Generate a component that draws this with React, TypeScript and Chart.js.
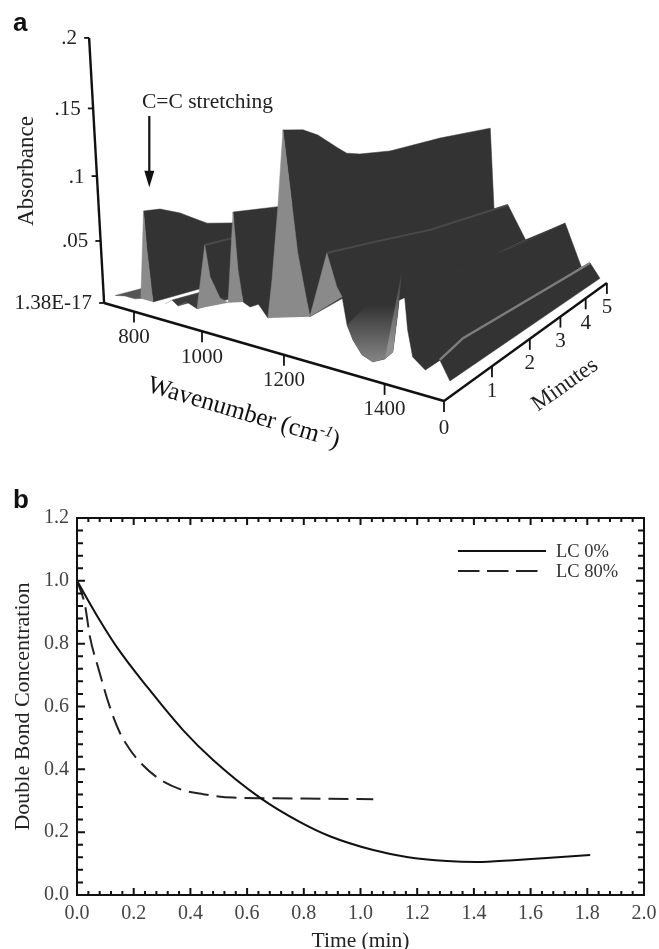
import React, { useEffect, useRef } from "react";
import { Chart, registerables } from "chart.js";

Chart.register(...registerables);

// ---------- Panel a: spectrum surface (wavenumber, minutes, absorbance) ----------
const wavenumberTicks = [800, 1000, 1200, 1400];
const minuteTicks = [0, 1, 2, 3, 4, 5];
const absorbanceTicks = [0, 0.05, 0.1, 0.15, 0.2];
const absorbanceTickLabels = ["1.38E-17", ".05", ".1", ".15", ".2"];
const frontMinute = 0.3;

const frontWavenumbers = [670, 704, 738, 758, 767, 778, 798, 836, 858, 876, 902, 932, 954, 969, 996, 1018, 1031, 1044, 1057, 1075, 1087, 1119, 1129, 1143, 1155, 1171, 1189, 1216, 1253, 1274, 1285, 1295, 1307, 1325, 1346, 1369, 1384, 1393, 1401, 1411, 1420, 1442, 1467, 1484];
const frontAbsorbance = [0, 0.0017, 0.0015, 0.003, 0.0696, 0.0407, 0.0028, 0.0037, 0.008, 0.0048, 0.0093, 0.0063, 0.0523, 0.0308, 0.0179, 0.0159, 0.0779, 0.0396, 0.0189, 0.0167, 0.0228, 0.0124, 0.0376, 0.085, 0.1343, 0.0985, 0.0578, 0.0196, 0.0607, 0.0414, 0.036, 0.02, 0.0121, 0.0047, 0.0023, 0.0058, 0.011, 0.0336, 0.0582, 0.0253, 0.011, 0.0056, 0.0131, 0.0032];

// crest rows: [wavenumber, minute, absorbance]
const ripple0Crest = [[670, 0.3, 0], [690, 5, 0.004], [758, 5, 0]];
const ridge1Crest = [[767, 0.3, 0.0696], [767, 0.565, 0.0692], [767, 0.904, 0.0637], [767, 1.136, 0.0579], [767, 1.394, 0.0517], [767, 1.886, 0.048], [767, 5, 0.047], [798, 5, 0.003]];
const rippleACrest = [[858, 0.3, 0.008], [858, 5, 0.006], [876, 5, 0.004]];
const rippleBCrest = [[902, 0.3, 0.0093], [902, 5, 0.007], [932, 5, 0.005]];
const ridge2Crest = [[954, 0.3, 0.0523], [954, 0.75, 0.053], [954, 5, 0.05], [996, 5, 0.016]];
const ridge3Crest = [[1031, 0.3, 0.0779], [1031, 1.03, 0.0763], [1031, 5, 0.07], [1075, 5, 0.0167]];
const ridge4Crest = [[1087, 0.3, 0.0228], [1087, 5, 0.02], [1119, 5, 0.0124]];
const ridge5Crest = [[1155, 0.3, 0.1343], [1155, 0.64, 0.1338], [1155, 0.91, 0.1299], [1155, 1.3, 0.12], [1155, 1.48, 0.1158], [1155, 1.76, 0.1143], [1155, 2.47, 0.1144], [1155, 3.87, 0.1215], [1204, 5, 0.129], [1215, 5, 0.05]];
const ridge6Crest = [[1253, 0.3, 0.0607], [1253, 1.1, 0.0594], [1253, 2.48, 0.0564], [1253, 5, 0.0583], [1300, 5, 0.028]];
const ridge7Crest = [[1401, 0.3, 0.0582], [1401, 0.65, 0.0624], [1401, 0.85, 0.0598], [1401, 1.13, 0.0532], [1401, 1.45, 0.0479], [1401, 1.77, 0.0464], [1401, 2.9, 0.045], [1401, 5, 0.047], [1440, 5, 0.0107]];
const ridge8Crest = [[1467, 0.3, 0.0131], [1465, 0.8, 0.0168], [1461, 5, 0.015], [1484, 5, 0.003]];
const valleyBackRow = [1300, 5, 0.028];

// ---------- Panel b: double bond conversion ----------
const lc0Time = [0, 0.07, 0.14, 0.247, 0.374, 0.48, 0.645, 0.787, 0.892, 1.045, 1.163, 1.305, 1.41, 1.54, 1.657, 1.81];
const lc0Value = [1.0, 0.89, 0.79, 0.663, 0.525, 0.43, 0.31, 0.232, 0.187, 0.143, 0.121, 0.108, 0.105, 0.111, 0.118, 0.127];
const lc80Time = [0, 0.028, 0.046, 0.074, 0.116, 0.152, 0.18, 0.21, 0.28, 0.363, 0.445, 0.55, 0.7, 0.892, 1.045];
const lc80Value = [1.0, 0.923, 0.82, 0.726, 0.598, 0.515, 0.472, 0.435, 0.376, 0.337, 0.321, 0.31, 0.308, 0.306, 0.305];

const SERIF = '"Liberation Serif", serif';
const DARK = "#333333";
const LIGHT = "#8a8a8a";

function project(w: number, t: number, a: number) {
  const s = (1500 - w) / 800;
  const d = 1 + 0.483 * s + 0.134 * t;
  const x = (444 - 289.6 * s + 113.9 * t) / d;
  const g = (401 + 48.3 * s + 14.3 * t) / d;
  return { x, y: g - (a * 1965) / d };
}

function frontRows(lo: number, hi: number) {
  const rows: number[][] = [];
  frontWavenumbers.forEach((w, i) => {
    if (w >= lo && w <= hi) rows.push([w, frontMinute, frontAbsorbance[i]]);
  });
  return rows;
}

function toPoints(rows: number[][]) {
  return rows.map((r) => project(r[0], r[1], r[2]));
}

function polygon(rows: number[][], color: any) {
  return {
    data: toPoints(rows),
    showLine: true,
    fill: "shape",
    backgroundColor: color,
    borderColor: typeof color === "string" ? color : "rgba(0,0,0,0)",
    borderWidth: typeof color === "string" ? 0.5 : 0,
    pointRadius: 0,
    tension: 0,
  };
}

function wall(crest: number[][], lo: number, hi: number, color = DARK) {
  return polygon([...crest, ...frontRows(lo, hi).reverse()], color);
}

function stroke(rows: number[][], color: string, width: number) {
  return {
    data: toPoints(rows),
    showLine: true,
    fill: false,
    borderColor: color,
    borderWidth: width,
    pointRadius: 0,
    tension: 0,
  };
}

const surfacePlugin = {
  id: "surfaceAxes",
  afterDatasetsDraw(chart: any) {
    const { ctx, scales } = chart;
    const px = (p: { x: number; y: number }) => ({ x: scales.x.getPixelForValue(p.x), y: scales.y.getPixelForValue(p.y) });
    const text = (s: string, x: number, y: number, font: string, align: CanvasTextAlign = "center", color = "#222") => {
      ctx.font = font;
      ctx.fillStyle = color;
      ctx.textAlign = align;
      ctx.textBaseline = "middle";
      ctx.fillText(s, x, y);
    };
    const seg = (a: any, b: any, w: number) => {
      ctx.beginPath();
      ctx.moveTo(a.x, a.y);
      ctx.lineTo(b.x, b.y);
      ctx.lineWidth = w;
      ctx.strokeStyle = "#111";
      ctx.stroke();
    };
    ctx.save();
    const labelFont = `21px ${SERIF}`;
    // floor axes
    const corner = px(project(700, 0, 0));
    const right = px(project(1500, 0, 0));
    const back = px(project(1500, 5, 0));
    seg(corner, right, 2.6);
    seg(right, back, 2.4);
    wavenumberTicks.forEach((w) => {
      const p = px(project(w, 0, 0));
      seg(p, { x: p.x, y: p.y + 11 }, 1.8);
      text(String(w), p.x, p.y + 26, labelFont);
    });
    minuteTicks.forEach((t) => {
      const p = px(project(1500, t, 0));
      seg(p, { x: p.x, y: p.y + 11 }, 1.8);
      text(String(t), p.x, p.y + (t === 0 ? 27 : 25), labelFont);
    });
    // vertical absorbance axis
    const axisPoint = (a: number) => ({ x: corner.x - 75 * a, y: corner.y - (1212 * a + 567 * a * a) });
    seg(axisPoint(0), axisPoint(0.2), 2.4);
    absorbanceTicks.forEach((a, i) => {
      const p = axisPoint(a);
      seg(p, { x: p.x - 5, y: p.y }, 1.8);
      text(absorbanceTickLabels[i], p.x - 12, p.y + 1, labelFont, "right");
    });
    // titles
    ctx.save();
    ctx.translate(27, 171);
    ctx.rotate(-Math.PI / 2);
    text("Absorbance", 0, 0, `23px ${SERIF}`);
    ctx.restore();

    ctx.save();
    ctx.translate(148, 385);
    ctx.rotate((16.5 * Math.PI) / 180);
    const main = "Wavenumber (cm";
    text(main, 0, 0, `25px ${SERIF}`, "left", "#111");
    const mainW = ctx.measureText(main).width;
    text("-1", mainW, -6, `italic 16px ${SERIF}`, "left", "#111");
    const supW = ctx.measureText("-1").width;
    text(")", mainW + supW, 0, `25px ${SERIF}`, "left", "#111");
    ctx.restore();

    ctx.save();
    ctx.translate(565, 385);
    ctx.rotate((-35.5 * Math.PI) / 180);
    text("Minutes", 0, 0, `23px ${SERIF}`);
    ctx.restore();

    // annotation
    text("C=C stretching", 142, 102, `21.5px ${SERIF}`, "left");
    seg({ x: 149.3, y: 116 }, { x: 149.3, y: 175 }, 2.2);
    ctx.beginPath();
    ctx.moveTo(144.3, 170.7);
    ctx.lineTo(154.3, 170.7);
    ctx.lineTo(149.3, 187.3);
    ctx.closePath();
    ctx.fillStyle = "#111";
    ctx.fill();

    text("a", 13, 24, `bold 26px "Liberation Sans", sans-serif`, "left", "#111");
    ctx.restore();
  },
};

const framePlugin = {
  id: "frameTicks",
  afterDraw(chart: any) {
    const { ctx, chartArea: a, scales } = chart;
    ctx.save();
    ctx.strokeStyle = "#111";
    ctx.lineWidth = 2;
    ctx.strokeRect(a.left, a.top, a.right - a.left, a.bottom - a.top);
    const isMajor = (v: number) => Math.abs(v / 0.2 - Math.round(v / 0.2)) < 1e-6;
    ctx.beginPath();
    scales.x.ticks.forEach((t: any) => {
      const x = scales.x.getPixelForValue(t.value);
      const len = isMajor(t.value) ? 7 : 4;
      ctx.moveTo(x, a.bottom);
      ctx.lineTo(x, a.bottom - len);
      ctx.moveTo(x, a.top);
      ctx.lineTo(x, a.top + len);
    });
    scales.y.ticks.forEach((t: any) => {
      const y = scales.y.getPixelForValue(t.value);
      const len = isMajor(t.value) ? 8 : 6;
      ctx.moveTo(a.left, y);
      ctx.lineTo(a.left + len, y);
      ctx.moveTo(a.right, y);
      ctx.lineTo(a.right - len, y);
    });
    ctx.stroke();
    // legend, read from the datasets
    chart.data.datasets.forEach((ds: any, i: number) => {
      const y = 551 - 474 + i * 20;
      ctx.beginPath();
      ctx.setLineDash(ds.borderDash ? [21.5, 7.5] : []);
      ctx.lineWidth = ds.borderWidth;
      ctx.strokeStyle = ds.borderColor;
      ctx.moveTo(458, y);
      ctx.lineTo(ds.borderDash ? 538 : 546, y);
      ctx.stroke();
      ctx.setLineDash([]);
      ctx.font = `18.5px ${SERIF}`;
      ctx.fillStyle = "#333";
      ctx.textAlign = "left";
      ctx.textBaseline = "middle";
      ctx.fillText(ds.label, 556, y + 1);
    });
    ctx.font = `bold 26px "Liberation Sans", sans-serif`;
    ctx.fillStyle = "#111";
    ctx.textAlign = "left";
    ctx.textBaseline = "middle";
    ctx.fillText("b", 13, 501 - 474);
    ctx.restore();
  },
};

function zeroPadding(s: any) {
  s.paddingLeft = 0;
  s.paddingRight = 0;
  s.paddingTop = 0;
  s.paddingBottom = 0;
}

function majorLabel(v: any) {
  const n = Number(v);
  return Math.abs(n / 0.2 - Math.round(n / 0.2)) < 1e-6 ? n.toFixed(1) : "";
}

export default function App() {
  const surfaceRef = useRef<HTMLCanvasElement>(null);
  const lineRef = useRef<HTMLCanvasElement>(null);

  useEffect(() => {
    const surfaceCtx = surfaceRef.current!.getContext("2d")!;
    const valleyShade = surfaceCtx.createLinearGradient(0, 305, 0, 362);
    valleyShade.addColorStop(0, DARK);
    valleyShade.addColorStop(1, "#858585");
    const wedgeShade = surfaceCtx.createLinearGradient(0, 270, 0, 345);
    wedgeShade.addColorStop(0, "#3c3c3c");
    wedgeShade.addColorStop(1, "#909090");

    const layers = [
      wall(ripple0Crest, 670, 758, "#555555"),
      wall(ridge1Crest, 767, 798),
      polygon(frontRows(758, 798), LIGHT),
      wall(rippleACrest, 858, 876, "#3a3a3a"),
      polygon(frontRows(836, 858), LIGHT),
      wall(rippleBCrest, 902, 932, "#3a3a3a"),
      polygon(frontRows(876, 902), LIGHT),
      wall(ridge2Crest, 954, 996),
      polygon(frontRows(932, 1018), LIGHT),
      stroke(ridge2Crest.slice(0, 3), "#4a4a4a", 2),
      wall(ridge3Crest, 1031, 1075),
      polygon(frontRows(1018, 1057), LIGHT),
      wall(ridge4Crest, 1087, 1119),
      wall(ridge5Crest, 1155, 1216),
      polygon(frontRows(1119, 1216), LIGHT),
      wall(ridge6Crest, 1253, 1295),
      polygon(frontRows(1216, 1285), LIGHT),
      stroke(ridge6Crest.slice(0, 4), "#4a4a4a", 2),
      wall([valleyBackRow, ...ridge7Crest.slice(0, 8).reverse()], 1295, 1401),
      polygon(frontRows(1295, 1401), valleyShade),
      polygon(frontRows(1369, 1401), wedgeShade),
      wall(ridge7Crest, 1401, 1442),
      wall(ridge8Crest, 1442, 1484),
      stroke(ridge8Crest.slice(0, 3), "#7d7d7d", 2.4),
    ];

    const surface = new Chart(surfaceRef.current!, {
      type: "scatter",
      data: { datasets: layers.reverse() as any },
      options: {
        animation: false,
        responsive: false,
        layout: { padding: 0 },
        scales: {
          x: { type: "linear", min: 0, max: 659, display: false },
          y: { type: "linear", min: 0, max: 474, reverse: true, display: false },
        },
        plugins: { legend: { display: false }, tooltip: { enabled: false } },
      },
      plugins: [surfacePlugin],
    } as any);

    const line = new Chart(lineRef.current!, {
      type: "scatter",
      data: {
        datasets: [
          {
            label: "LC 0%",
            data: lc0Time.map((x, i) => ({ x, y: lc0Value[i] })),
            showLine: true,
            borderColor: "#111",
            borderWidth: 2,
            pointRadius: 0,
            cubicInterpolationMode: "monotone",
          },
          {
            label: "LC 80%",
            data: lc80Time.map((x, i) => ({ x, y: lc80Value[i] })),
            showLine: true,
            borderColor: "#222",
            borderWidth: 2,
            borderDash: [20, 8],
            pointRadius: 0,
            cubicInterpolationMode: "monotone",
          },
        ],
      },
      options: {
        animation: false,
        responsive: false,
        layout: { padding: { left: 0, top: 44, right: 15, bottom: 0 } },
        scales: {
          x: {
            type: "linear",
            min: 0,
            max: 2,
            grid: { display: false, drawTicks: false },
            border: { display: false },
            title: { display: true, text: "Time (min)", font: { family: SERIF, size: 21.5 }, color: "#222", padding: { top: 0, bottom: -5 } },
            ticks: { stepSize: 0.04, autoSkip: false, maxRotation: 0, padding: 7, color: "#444", font: { family: SERIF, size: 20 }, callback: majorLabel },
            afterFit: (s: any) => {
              s.height = 54;
              zeroPadding(s);
            },
          },
          y: {
            type: "linear",
            min: 0,
            max: 1.2,
            grid: { display: false, drawTicks: false },
            border: { display: false },
            title: { display: true, text: "Double Bond Concentration", font: { family: SERIF, size: 22 }, color: "#222", padding: { top: 10, bottom: 0 } },
            ticks: { stepSize: 0.04, autoSkip: false, padding: 8, color: "#444", font: { family: SERIF, size: 20 }, callback: majorLabel },
            afterFit: (s: any) => {
              s.width = 77;
              zeroPadding(s);
            },
          },
        },
        plugins: { legend: { display: false }, tooltip: { enabled: false } },
      },
      plugins: [framePlugin],
    } as any);

    return () => {
      surface.destroy();
      line.destroy();
    };
  }, []);

  return (
    <div style={{ position: "absolute", left: 0, top: 0, width: 659, height: 949, background: "#fff" }}>
      <canvas ref={surfaceRef} width={659} height={474} style={{ position: "absolute", left: 0, top: 0, width: 659, height: 474 }} />
      <canvas ref={lineRef} width={659} height={475} style={{ position: "absolute", left: 0, top: 474, width: 659, height: 475 }} />
    </div>
  );
}
